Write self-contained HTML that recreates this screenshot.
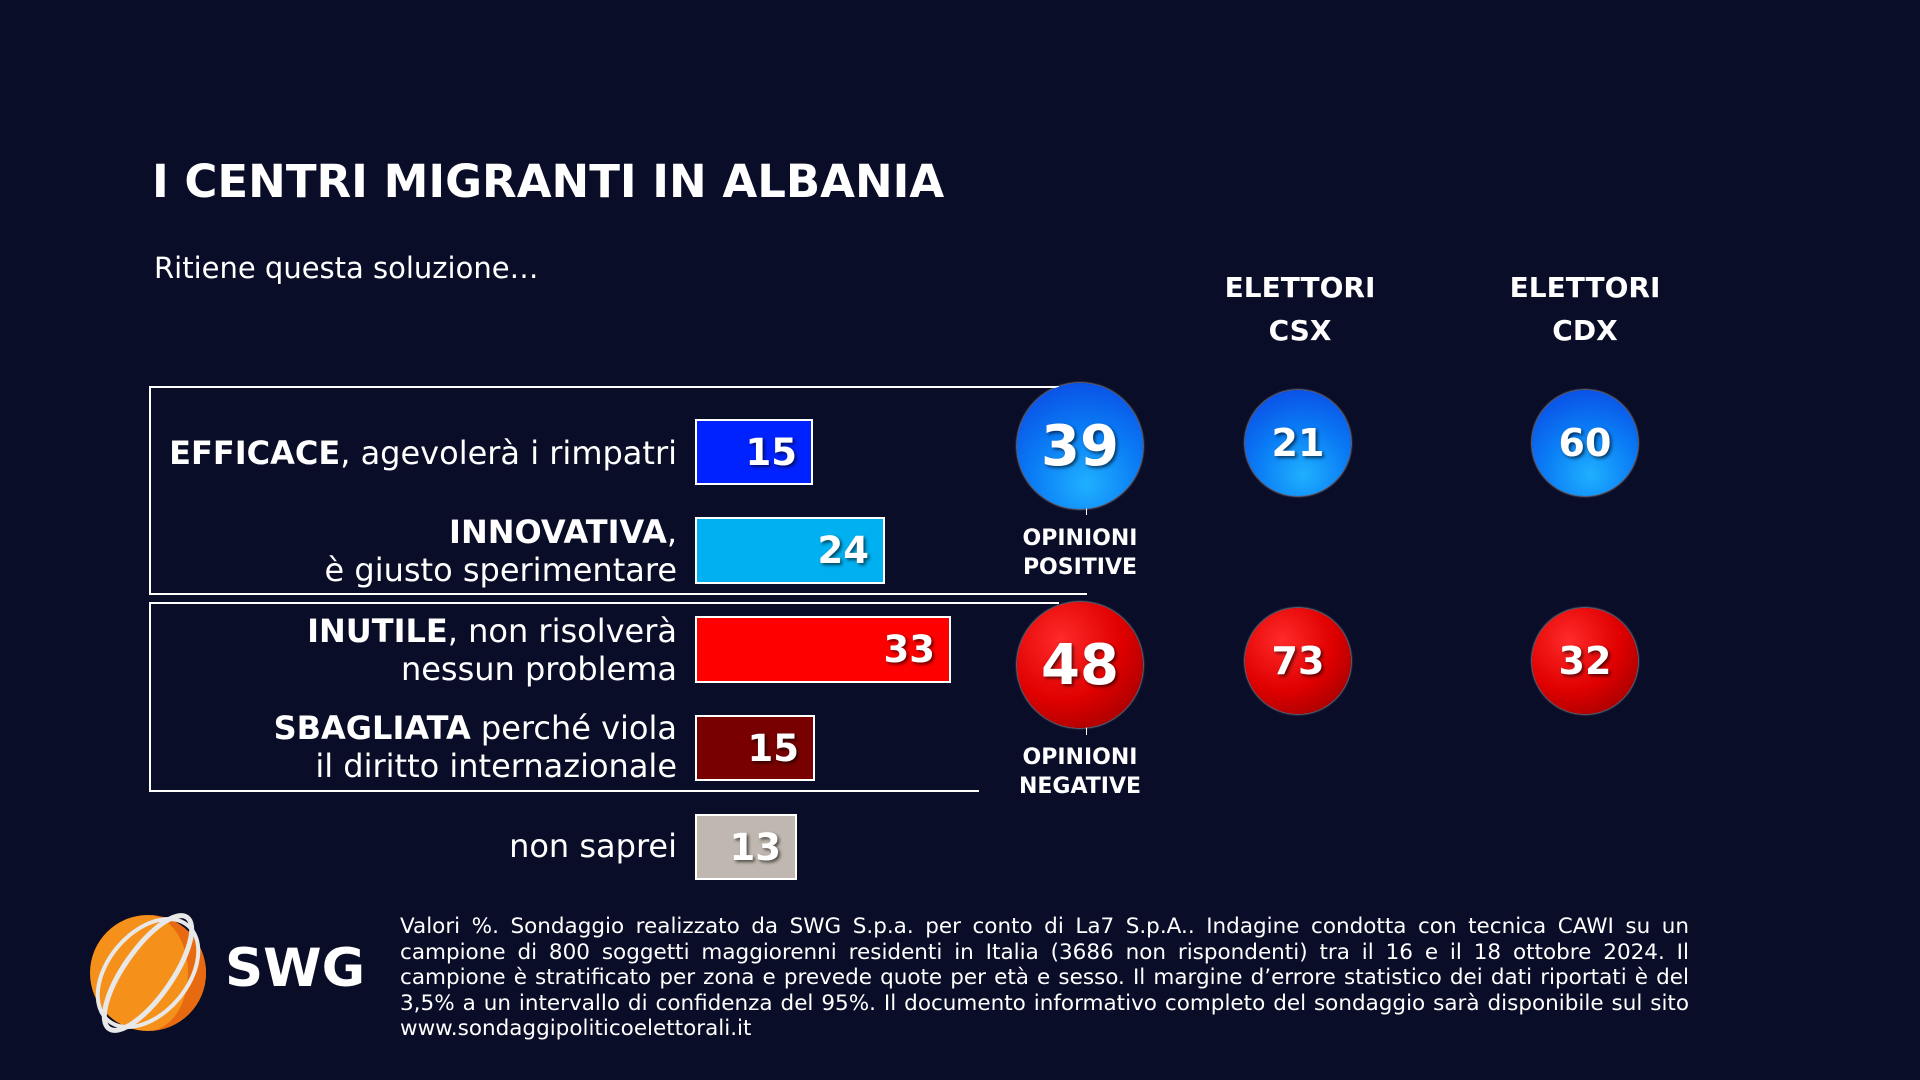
<!DOCTYPE html>
<html><head><meta charset="utf-8"><style>
body{margin:0;width:1920px;height:1080px;background:#0a0d27;overflow:hidden;position:relative;font-family:"DejaVu Sans","Liberation Sans",sans-serif;color:#fff}
.a{position:absolute}
.lbl{position:absolute;right:1243px;text-align:right;font-size:32px;line-height:38px;white-space:nowrap}
.bar{position:absolute;left:695px;border:2px solid #fff;box-sizing:border-box;font-weight:bold;font-size:37px;text-align:right;padding-right:14px;text-shadow:2px 2px 3px rgba(0,0,0,.6);display:flex;align-items:center;justify-content:flex-end}
.c{position:absolute;border-radius:50%;display:flex;align-items:center;justify-content:center;font-weight:bold;text-shadow:2px 2px 3px rgba(0,0,0,.6);box-shadow:0 0 2px #fff}
.b{background:radial-gradient(circle at 55% 80%,#1fb0ff 0%,#0a7cf5 45%,#0a3fe0 100%)}
.r{background:radial-gradient(circle at 35% 30%,#ff2a2a 0%,#e00000 50%,#8a0000 100%)}
.h{position:absolute;font-weight:bold;font-size:22px;line-height:29px;text-align:center;width:200px}
.hd{position:absolute;font-weight:bold;font-size:28px;line-height:43px;text-align:center;width:240px}
.fl{white-space:nowrap;text-align:justify;text-align-last:justify}
</style></head><body>
<div class="a" style="left:152px;top:155px;font-size:45px;font-weight:bold">I CENTRI MIGRANTI IN ALBANIA</div>
<div class="a" style="left:154px;top:251px;font-size:29px">Ritiene questa soluzione…</div>
<div class="hd" style="left:1180px;top:266px">ELETTORI<br>CSX</div>
<div class="hd" style="left:1465px;top:266px">ELETTORI<br>CDX</div>
<div class="a" style="left:149px;top:386px;width:910px;height:2px;background:#fff"></div>
<div class="a" style="left:149px;top:386px;width:2px;height:209px;background:#fff"></div>
<div class="a" style="left:149px;top:593px;width:938px;height:2px;background:#fff"></div>
<div class="a" style="left:1086px;top:505px;width:1px;height:10px;background:#fff"></div>
<div class="a" style="left:149px;top:602px;width:910px;height:2px;background:#fff"></div>
<div class="a" style="left:149px;top:602px;width:2px;height:190px;background:#fff"></div>
<div class="a" style="left:149px;top:790px;width:830px;height:2px;background:#fff"></div>
<div class="a" style="left:1086px;top:725px;width:1px;height:10px;background:#fff"></div>
<div class="lbl" style="top:434px"><b>EFFICACE</b>, agevolerà i rimpatri</div>
<div class="lbl" style="top:513px"><b>INNOVATIVA</b>,<br>è giusto sperimentare</div>
<div class="lbl" style="top:612px"><b>INUTILE</b>, non risolverà<br>nessun problema</div>
<div class="lbl" style="top:709px"><b>SBAGLIATA</b> perché viola<br>il diritto internazionale</div>
<div class="lbl" style="top:827px">non saprei</div>
<div class="bar" style="top:419px;width:118px;height:66px;background:#0022ff">15</div>
<div class="bar" style="top:517px;width:190px;height:67px;background:#00b0f0">24</div>
<div class="bar" style="top:616px;width:256px;height:67px;background:#ff0000">33</div>
<div class="bar" style="top:715px;width:120px;height:66px;background:#780000">15</div>
<div class="bar" style="top:814px;width:102px;height:66px;background:#c0b8b0">13</div>
<div class="c b" style="left:1017px;top:383px;width:126px;height:126px;font-size:56px">39</div>
<div class="c r" style="left:1017px;top:602px;width:126px;height:126px;font-size:56px">48</div>
<div class="h" style="left:980px;top:524px">OPINIONI<br>POSITIVE</div>
<div class="h" style="left:980px;top:743px">OPINIONI<br>NEGATIVE</div>
<div class="c b" style="left:1245px;top:390px;width:106px;height:106px;font-size:38px">21</div>
<div class="c b" style="left:1532px;top:390px;width:106px;height:106px;font-size:38px">60</div>
<div class="c r" style="left:1245px;top:608px;width:106px;height:106px;font-size:38px">73</div>
<div class="c r" style="left:1532px;top:608px;width:106px;height:106px;font-size:38px">32</div>
<svg class="a" style="left:78px;top:910px" width="150" height="130" viewBox="0 0 150 130">
<circle cx="70" cy="63" r="58" fill="#f5901a"/>
<path d="M70 5 A58 58 0 0 1 70 121 A40 58 0 0 0 70 5Z" fill="#e86a10"/>
<g fill="none" stroke="#e8e8e8" stroke-width="5">
<ellipse cx="70" cy="63" rx="68" ry="24" transform="rotate(-55 70 63)"/>
<ellipse cx="70" cy="63" rx="62" ry="40" transform="rotate(-50 70 63)" stroke-width="4"/>
</g></svg>
<div class="a" style="left:225px;top:938px;font-size:53px;font-weight:bold">SWG</div>
<div class="a" style="left:400px;top:914px;width:1289px;font-size:21.5px;line-height:25.5px">
<div class="fl">Valori %. Sondaggio realizzato da SWG S.p.a. per conto di La7 S.p.A.. Indagine condotta con tecnica CAWI su un</div>
<div class="fl">campione di 800 soggetti maggiorenni residenti in Italia (3686 non rispondenti) tra il 16 e il 18 ottobre 2024. Il</div>
<div class="fl">campione è stratificato per zona e prevede quote per età e sesso. Il margine d’errore statistico dei dati riportati è del</div>
<div class="fl">3,5% a un intervallo di confidenza del 95%. Il documento informativo completo del sondaggio sarà disponibile sul sito</div>
<div>www.sondaggipoliticoelettorali.it</div>
</div>
</body></html>
